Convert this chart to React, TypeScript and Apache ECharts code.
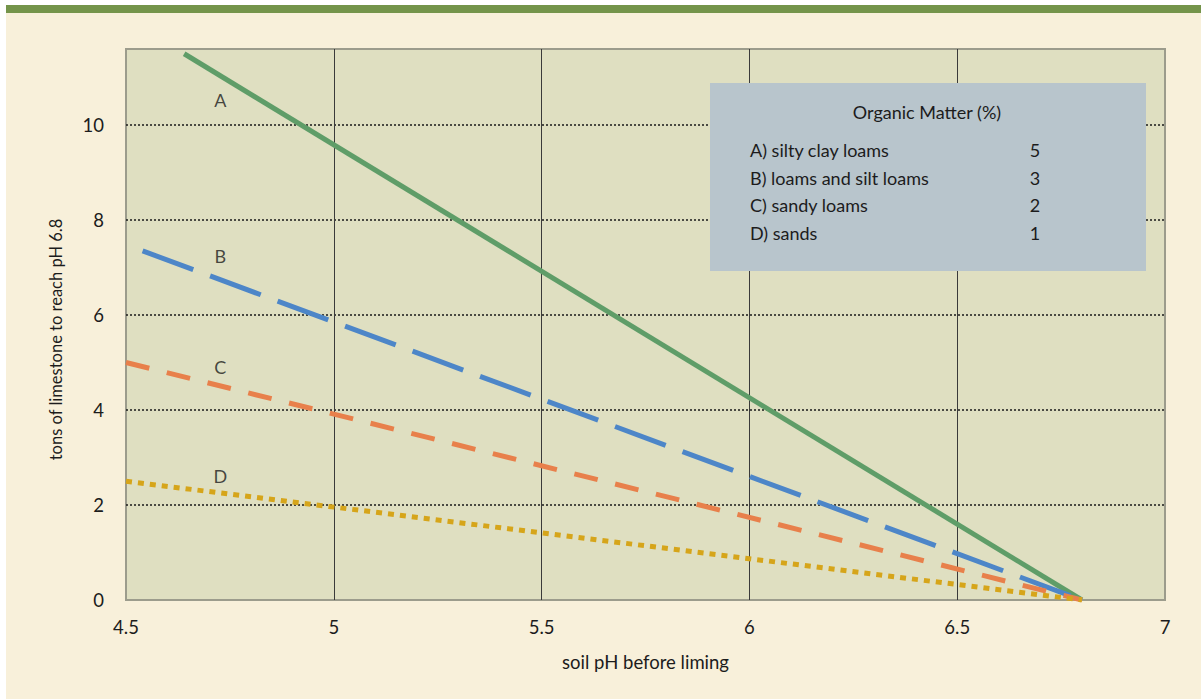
import React, { useEffect, useRef } from "react";
import * as echarts from "echarts";

// ---- data ----
const xTicks = [4.5, 5, 5.5, 6, 6.5, 7];
const lineA = [[4.64, 11.5], [6.8, 0]];
const lineB = [[4.54, 7.35], [6.8, 0]];
const lineC = [[4.5, 5.0], [6.8, 0]];
const lineD = [[4.5, 2.5], [6.8, 0]];
const curveNames = ["A", "B", "C", "D"];
const curveLabelX = [4.727, 4.727, 4.727, 4.727];
const curveLabelY = [10.52, 7.25, 4.91, 2.61];
const legendTitle = "Organic Matter (%)";
const soilTypes = [
  "A) silty clay loams",
  "B) loams and silt loams",
  "C) sandy loams",
  "D) sands",
];
const organicMatter = [5, 3, 2, 1];

const FONT = "Lato, 'Open Sans', sans-serif";
const TXT = "#1c1c1c";

export default function App() {
  const ref = useRef<HTMLDivElement>(null);
  useEffect(() => {
    if (!ref.current) return;
    const chart = echarts.init(ref.current, null, { renderer: "svg" });
    const rowY = [150, 178, 205, 233];
    const legendChildren: any[] = [
      {
        type: "rect",
        shape: { x: 710, y: 83, width: 436, height: 188 },
        style: { fill: "#b8c5cc" },
        z: 100,
      },
      {
        type: "text",
        x: 927,
        y: 112,
        z: 101,
        style: {
          text: legendTitle,
          font: `18px ${FONT}`,
          fill: TXT,
          align: "center",
          verticalAlign: "middle",
        },
      },
    ];
    soilTypes.forEach((s, i) => {
      legendChildren.push({
        type: "text",
        x: 750,
        y: rowY[i],
        z: 101,
        style: { text: s, font: `18px ${FONT}`, fill: TXT, align: "left", verticalAlign: "middle" },
      });
      legendChildren.push({
        type: "text",
        x: 1035,
        y: rowY[i],
        z: 101,
        style: {
          text: String(organicMatter[i]),
          font: `18px ${FONT}`,
          fill: TXT,
          align: "center",
          verticalAlign: "middle",
        },
      });
    });

    const lineSeries = (name: string, data: number[][], color: string, type: any) => ({
      type: "line",
      name,
      data,
      symbol: "none",
      showSymbol: false,
      lineStyle: { color, width: 5, type, cap: "butt" },
      z: 3,
    });

    chart.setOption({
      animation: false,
      backgroundColor: "transparent",
      textStyle: { fontFamily: FONT },
      grid: {
        left: 126,
        top: 49,
        width: 1039,
        height: 551,
        show: true,
        backgroundColor: "#dfdfc1",
        borderColor: "#9c9c8c",
        borderWidth: 2,
      },
      xAxis: {
        type: "value",
        min: xTicks[0],
        max: xTicks[xTicks.length - 1],
        interval: 0.5,
        name: "soil pH before liming",
        nameLocation: "middle",
        nameGap: 52,
        nameTextStyle: { fontSize: 18.5, color: TXT, fontFamily: FONT },
        axisLine: { show: false },
        axisTick: { show: false },
        axisLabel: { fontSize: 18.5, color: TXT, margin: 17, fontFamily: FONT },
        splitLine: {
          show: true,
          showMinLine: false,
          showMaxLine: false,
          lineStyle: { color: "#3a3a3a", width: 1, type: "solid" },
        },
      },
      yAxis: {
        type: "value",
        min: 0,
        max: 11.6,
        interval: 2,
        name: "tons of limestone to reach pH 6.8",
        nameLocation: "middle",
        nameGap: 62,
        nameTextStyle: { fontSize: 16.5, color: TXT, fontFamily: FONT, padding: [0, 0, 0, -30] },
        axisLine: { show: false },
        axisTick: { show: false },
        axisLabel: {
          fontSize: 18.5,
          color: TXT,
          margin: 22,
          fontFamily: FONT,
          formatter: (v: number) => (Math.abs(v % 2) < 1e-9 ? String(v) : ""),
        },
        splitLine: {
          show: true,
          showMinLine: false,
          showMaxLine: false,
          lineStyle: { color: "#1a1a1a", width: 1.5, type: [2, 2] },
        },
      },
      series: [
        lineSeries("A", lineA, "#5f9d68", "solid"),
        lineSeries("B", lineB, "#4d86c8", [54, 18]),
        lineSeries("C", lineC, "#e8804b", [24, 18]),
        lineSeries("D", lineD, "#d6a51a", [6, 6]),
        {
          type: "scatter",
          name: "labels",
          symbolSize: 0,
          data: curveNames.map((n, i) => ({ value: [curveLabelX[i], curveLabelY[i]], name: n })),
          label: {
            show: true,
            position: "inside",
            formatter: (p: any) => p.name,
            fontSize: 18,
            color: TXT,
            fontFamily: FONT,
          },
          z: 4,
        },
      ],
      graphic: [{ type: "group", children: legendChildren }],
    });
    return () => chart.dispose();
  }, []);

  return (
    <div style={{ position: "fixed", left: 0, top: 0, width: 1201, height: 699, background: "#ffffff", overflow: "hidden" }}>
      <div style={{ position: "absolute", left: 6, top: 5, right: 0, bottom: 0, background: "#f8f0da" }} />
      <div style={{ position: "absolute", left: 6, top: 5, right: 0, height: 8, background: "#74944a" }} />
      <div ref={ref} style={{ position: "absolute", left: 0, top: 0, width: 1201, height: 699 }} />
    </div>
  );
}
